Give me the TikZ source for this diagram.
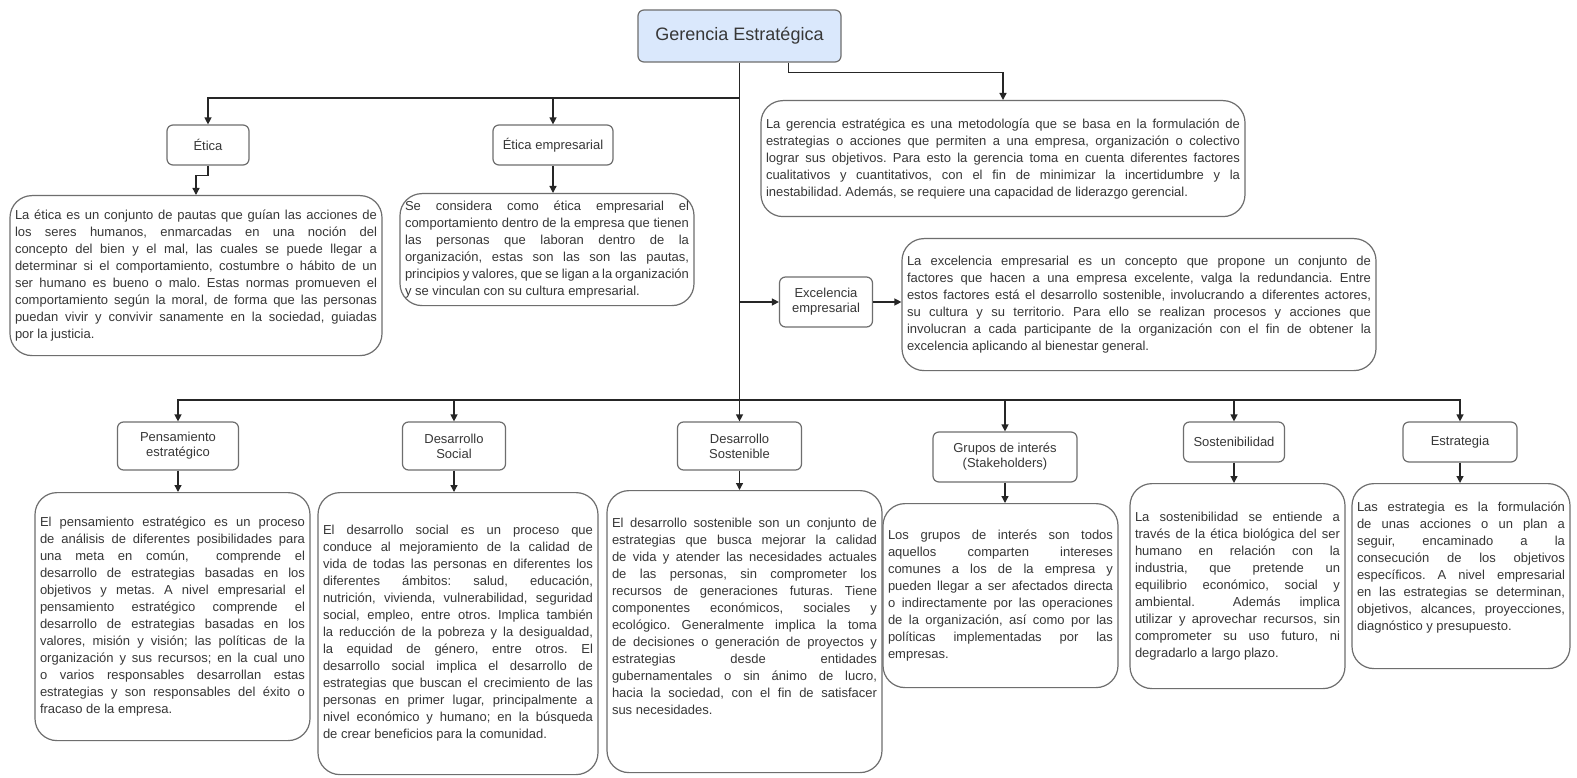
\documentclass[tikz,border=0pt]{standalone}
\usepackage{fontspec}
\setmainfont{Liberation Sans}
\definecolor{boxgray}{RGB}{110,110,110}
\definecolor{titleblue}{RGB}{218,232,252}
\definecolor{inkgray}{RGB}{55,55,55}
\usetikzlibrary{arrows.meta, positioning}
\hyphenpenalty=10000
\tolerance=10000
\hbadness=10000
\frenchspacing

\begin{document}
\begin{tikzpicture}[x=1pt, y=-1pt,
  lbl/.style={draw=boxgray, fill=white, rounded corners=6pt, line width=1.2pt,
    align=center, text=inkgray, font=\fontsize{13}{15}\selectfont, inner sep=2pt},
  txtbox/.style={draw=boxgray, fill=white, rounded corners=22pt, line width=1.2pt,
    anchor=north, text width=#1, align=justify, inner xsep=5pt, inner ysep=0pt,
    text=inkgray, font=\fontsize{13}{17}\selectfont},
  link/.style={draw=black!85, line width=1.3pt},
  arr/.style={link, -{Triangle[length=7pt,width=7pt]}},
]
  \fill[white] (0,0) rectangle (1577,778);
  \useasboundingbox (0,0) rectangle (1577,778);

  \node[lbl, fill=titleblue, minimum width=203pt, minimum height=52pt, font=\fontsize{18}{21}\selectfont] (title) at (739.5,36) {Gerencia Estratégica};

  % labels
  \node[lbl, minimum width=82pt, minimum height=40pt] (etica) at (208,145) {Ética};
  \node[lbl, minimum width=120pt, minimum height=40pt] (emp) at (553,145) {Ética empresarial};
  \node[lbl, minimum width=93pt, minimum height=50pt] (exc) at (826,302) {Excelencia\\empresarial};
  \node[lbl, minimum width=121pt, minimum height=48pt] (pen) at (178,446) {Pensamiento\\estratégico};
  \node[lbl, minimum width=103pt, minimum height=48pt] (soc) at (454,446) {Desarrollo\\Social};
  \node[lbl, minimum width=124pt, minimum height=48pt] (sos) at (739.5,446) {Desarrollo\\Sostenible};
  \node[lbl, minimum width=144pt, minimum height=50pt] (gru) at (1005,457) {Grupos de interés\\(Stakeholders)};
  \node[lbl, minimum width=101pt, minimum height=40pt] (stb) at (1234,442) {Sostenibilidad};
  \node[lbl, minimum width=114pt, minimum height=40pt] (est) at (1460,442) {Estrategia};

  % text boxes
  \node[txtbox=474pt, minimum height=116pt] (gerT) at (1003,100) {%
    La gerencia estratégica es una metodología que se basa en la formulación de\linebreak
    estrategias o acciones que permiten a una empresa, organización o colectivo\linebreak
    lograr sus objetivos. Para esto la gerencia toma en cuenta diferentes factores\linebreak
    cualitativos y cuantitativos, con el fin de minimizar la incertidumbre y la\linebreak
    inestabilidad. Además, se requiere una capacidad de liderazgo gerencial.};
  \node[txtbox=362pt, minimum height=160pt] (eticaT) at (196,195) {%
    La ética es un conjunto de pautas que guían las acciones de\linebreak
    los seres humanos, enmarcadas en una noción del\linebreak
    concepto del bien y el mal, las cuales se puede llegar a\linebreak
    determinar si el comportamiento, costumbre o hábito de un\linebreak
    ser humano es bueno o malo. Estas normas promueven el\linebreak
    comportamiento según la moral, de forma que las personas\linebreak
    puedan vivir y convivir sanamente en la sociedad, guiadas\linebreak
    por la justicia.};
  \node[txtbox=284pt, minimum height=112pt] (empT) at (547,193) {%
    Se considera como ética empresarial el\linebreak
    comportamiento dentro de la empresa que tienen\linebreak
    las personas que laboran dentro de la\linebreak
    organización, estas son las son las pautas,\linebreak
    principios y valores, que se ligan a la organización\linebreak
    y se vinculan con su cultura empresarial.};
  \node[txtbox=464pt, minimum height=132pt] (excT) at (1139,238) {%
    La excelencia empresarial es un concepto que propone un conjunto de\linebreak
    factores que hacen a una empresa excelente, valga la redundancia. Entre\linebreak
    estos factores está el desarrollo sostenible, involucrando a diferentes actores,\linebreak
    su cultura y su territorio. Para ello se realizan procesos y acciones que\linebreak
    involucran a cada participante de la organización con el fin de obtener la\linebreak
    excelencia aplicando al bienestar general.};
  \node[txtbox=265pt, minimum height=248pt] (penT) at (172.5,492) {%
    El pensamiento estratégico es un proceso\linebreak
    de análisis de diferentes posibilidades para\linebreak
    una meta en común, \ comprende el\linebreak
    desarrollo de estrategias basadas en los\linebreak
    objetivos y metas. A nivel empresarial el\linebreak
    pensamiento estratégico comprende el\linebreak
    desarrollo de estrategias basadas en los\linebreak
    valores, misión y visión; las políticas de la\linebreak
    organización y sus recursos; en la cual uno\linebreak
    o varios responsables desarrollan estas\linebreak
    estrategias y son responsables del éxito o\linebreak
    fracaso de la empresa.};
  \node[txtbox=270pt, minimum height=282pt] (socT) at (458,492) {%
    El desarrollo social es un proceso que\linebreak
    conduce al mejoramiento de la calidad de\linebreak
    vida de todas las personas en diferentes los\linebreak
    diferentes ámbitos: salud, educación,\linebreak
    nutrición, vivienda, vulnerabilidad, seguridad\linebreak
    social, empleo, entre otros. Implica también\linebreak
    la reducción de la pobreza y la desigualdad,\linebreak
    la equidad de género, entre otros. El\linebreak
    desarrollo social implica el desarrollo de\linebreak
    estrategias que buscan el crecimiento de las\linebreak
    personas en primer lugar, principalmente a\linebreak
    nivel económico y humano; en la búsqueda\linebreak
    de crear beneficios para la comunidad.};
  \node[txtbox=265pt, minimum height=282pt] (sosT) at (744.5,490) {%
    El desarrollo sostenible son un conjunto de\linebreak
    estrategias que busca mejorar la calidad\linebreak
    de vida y atender las necesidades actuales\linebreak
    de las personas, sin comprometer los\linebreak
    recursos de generaciones futuras. Tiene\linebreak
    componentes económicos, sociales y\linebreak
    ecológico. Generalmente implica la toma\linebreak
    de decisiones o generación de proyectos y\linebreak
    estrategias desde entidades\linebreak
    gubernamentales o sin ánimo de lucro,\linebreak
    hacia la sociedad, con el fin de satisfacer\linebreak
    sus necesidades.\par\vspace{30pt}};
  \node[txtbox=225pt, minimum height=184pt] (gruT) at (1000.5,503) {%
    Los grupos de interés son todos\linebreak
    aquellos comparten intereses\linebreak
    comunes a los de la empresa y\linebreak
    pueden llegar a ser afectados directa\linebreak
    o indirectamente por las operaciones\linebreak
    de la organización, así como por las\linebreak
    políticas implementadas por las\linebreak
    empresas.};
  \node[txtbox=205pt, minimum height=205pt] (stbT) at (1237.5,483) {%
    La sostenibilidad se entiende a\linebreak
    través de la ética biológica del ser\linebreak
    humano en relación con la\linebreak
    industria, que pretende un\linebreak
    equilibrio económico, social y\linebreak
    ambiental. \ Además implica\linebreak
    utilizar y aprovechar recursos, sin\linebreak
    comprometer su uso futuro, ni\linebreak
    degradarlo a largo plazo.};
  \node[txtbox=208pt, minimum height=185pt] (estT) at (1461,483) {%
    Las estrategia es la formulación\linebreak
    de unas acciones o un plan a\linebreak
    seguir, encaminado a la\linebreak
    consecución de los objetivos\linebreak
    específicos. A nivel empresarial\linebreak
    en las estrategias se determinan,\linebreak
    objetivos, alcances, proyecciones,\linebreak
    diagnóstico y presupuesto.\par\vspace{18pt}};

  % connectors
  \coordinate (jT) at (739.5,98);
  \coordinate (jB) at (739.5,400);
  \draw[link] (title) -- (jB);
  \draw[arr] (jT) -| (etica);
  \draw[arr] (jT) -| (emp);
  \draw[arr] (etica.south) -- ++(0,10) -| (eticaT);
  \draw[arr] (emp.south) -- (emp.south |- empT.north);
  \draw[arr] ([xshift=49pt]title.south) -- ++(0,10) -| (gerT);
  \draw[arr] (title.south |- exc.west) -- (exc.west);
  \draw[arr] (exc.east) -- (exc.east -| excT.west);
  \foreach \n/\t in {pen/penT, soc/socT, sos/sosT, gru/gruT, stb/stbT, est/estT} {
    \draw[arr] (jB) -| (\n);
    \draw[arr] (\n.south) -- (\n.south |- \t.north);
  }
\end{tikzpicture}
\end{document}
